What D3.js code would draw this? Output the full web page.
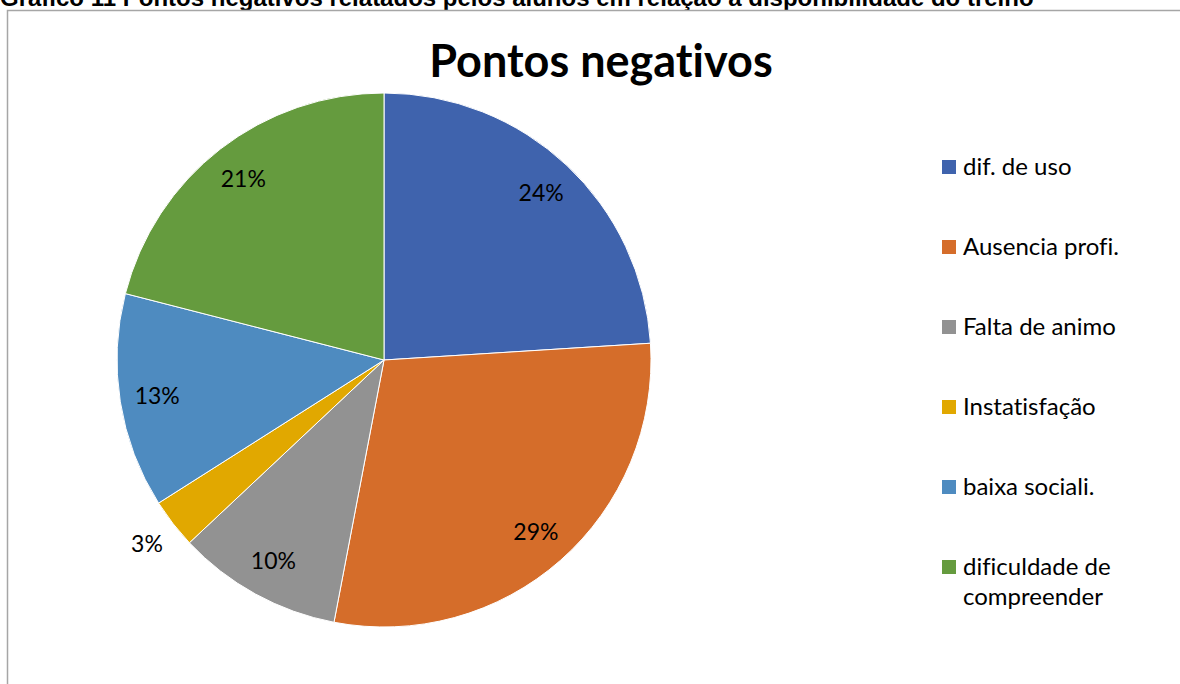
<!DOCTYPE html>
<html>
<head>
<meta charset="utf-8">
<script src="https://cdn.jsdelivr.net/npm/d3@7"></script>
<style>
  html, body { margin: 0; padding: 0; background: #fff; }
  svg { display: block; }
  svg text { font-variant-ligatures: none; font-feature-settings: "liga" 0, "clig" 0; }
</style>
</head>
<body>
<svg id="chart" width="1180" height="684"></svg>
<script>
// Respostas sobre os pontos negativos (percentual)
const categories = ["dif. de uso", "Ausencia profi.", "Falta de animo", "Instatisfação", "baixa sociali.", "dificuldade de compreender"];
const values = [24, 29, 10, 3, 13, 21];
const colors = ["#3F63AD", "#D56D2A", "#929292", "#E1A800", "#4E8BC0", "#659B3E"];
const legendLines = [["dif. de uso"], ["Ausencia profi."], ["Falta de animo"], ["Instatisfação"], ["baixa sociali."], ["dificuldade de", "compreender"]];

const caption = "Gráfico 11 Pontos negativos relatados pelos alunos em relação a disponibilidade do treino";
const title = "Pontos negativos";

const svg = d3.select("#chart");
const font = "Lato, 'Open Sans', sans-serif";

// Legenda do documento (cortada no topo)
svg.append("text")
  .attr("x", 0).attr("y", 6)
  .attr("font-family", "'Liberation Sans', Arial, sans-serif")
  .attr("font-weight", "bold")
  .attr("font-size", 24)
  .attr("fill", "#000")
  .text(caption);

// Moldura da área do gráfico
svg.append("path")
  .attr("d", "M7.5,684 V10.5 H1180")
  .attr("fill", "none")
  .attr("stroke", "#a6a6a6")
  .attr("stroke-width", 1.5);

// Título
svg.append("text")
  .attr("x", 601).attr("y", 77)
  .attr("text-anchor", "middle")
  .attr("font-family", font)
  .attr("font-weight", "bold")
  .attr("font-size", 45)
  .attr("fill", "#000")
  .text(title);

// Pizza
const cx = 384, cy = 360, r = 267;
const pie = d3.pie().sort(null).value(d => d)(values);
const arc = d3.arc().innerRadius(0).outerRadius(r);

const g = svg.append("g").attr("transform", `translate(${cx},${cy})`);
g.selectAll("path.slice")
  .data(pie)
  .join("path")
  .attr("class", "slice")
  .attr("d", arc)
  .attr("fill", (d, i) => colors[i])
  .attr("stroke", "#fff")
  .attr("stroke-width", 1);

// Rótulos de dados
const inner = d3.arc().innerRadius(r * 0.86).outerRadius(r * 0.86);
const outer = d3.arc().innerRadius(r + 33).outerRadius(r + 33);
g.selectAll("text.lbl")
  .data(pie)
  .join("text")
  .attr("class", "lbl")
  .attr("transform", d => `translate(${(d.data < 5 ? outer : inner).centroid(d)})`)
  .attr("text-anchor", "middle")
  .attr("dy", "0.35em")
  .attr("font-family", font)
  .attr("font-size", 23)
  .attr("fill", "#000")
  .text(d => d.data + "%");

// Legenda
const leg = svg.append("g");
const rowY = d3.scalePoint().domain(categories).range([167, 567]);
categories.forEach((c, i) => {
  const y = rowY(c);
  leg.append("rect")
    .attr("x", 942).attr("y", y - 7)
    .attr("width", 14).attr("height", 14)
    .attr("fill", colors[i]);
  const t = leg.append("text")
    .attr("font-family", font)
    .attr("font-size", 24)
    .attr("fill", "#000");
  legendLines[i].forEach((line, k) => {
    t.append("tspan")
      .attr("x", 963)
      .attr("y", y + 8 + k * 30)
      .text(line);
  });
});
</script>
</body>
</html>
